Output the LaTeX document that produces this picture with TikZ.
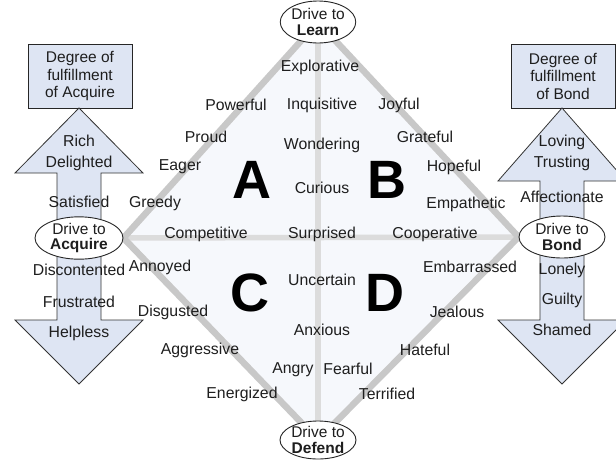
\documentclass[tikz,border=0pt]{standalone}
\usepackage{fontspec}
\setmainfont{Liberation Sans}
\usetikzlibrary{shapes.geometric,backgrounds}
\definecolor{arrowblue}{HTML}{DEE5F3}
\definecolor{diagray}{HTML}{C8C8C8}
\definecolor{crossgray}{HTML}{DCDCDC}
\definecolor{inkgray}{HTML}{1E1E1E}
\definecolor{fieldtint}{HTML}{F6F8FC}
\tikzset{
  word/.style={font=\fontsize{15.8}{17}\selectfont, text=inkgray, inner sep=0pt},
  quad/.style={font=\fontsize{54}{54}\selectfont\bfseries, inner sep=0pt},
  drive/.style={draw=black!85, line width=0.9pt, ellipse, fill=white, align=center,
    inner sep=0pt, font=\fontsize{15.5}{15.5}\selectfont, text=inkgray},
  degbox/.style={draw=black!85, line width=0.9pt, fill=arrowblue, align=center,
    minimum width=104, minimum height=64, font=\fontsize{15.5}{17.5}\selectfont, text=inkgray},
  arrowbody/.style={draw=black!80, line width=0.8pt, fill=arrowblue, line join=miter},
}
\begin{document}
\begin{tikzpicture}[x=1pt,y=-1pt]
\useasboundingbox (0,0) rectangle (616,459);
\clip (0,0) rectangle (616,459);
%\draw [help lines,step=20] (0,0) grid (616,459);

% fulfillment boxes
\node[degbox] (degacq) at (80,76) {Degree of\\fulfillment\\of Acquire};
\node[degbox] (degbond) at (563,76) {Degree of\\fulfillment\\of Bond};

% double arrows
\foreach \cx/\hb in {79/173,562/181}
  \draw[arrowbody] (\cx,108) -- ({\cx+64},\hb) -- ({\cx+22},\hb) -- ({\cx+22},320)
    -- ({\cx+64},320) -- (\cx,384) -- ({\cx-64},320) -- ({\cx-22},320)
    -- ({\cx-22},\hb) -- ({\cx-64},\hb) -- cycle;

% drives
\node[drive, minimum width=74, minimum height=42] (learn) at (318,22) {Drive to\\\textbf{Learn}};
\node[drive, minimum width=76, minimum height=38] (defend) at (318,440) {Drive to\\\textbf{Defend}};
\node[drive, minimum width=88, minimum height=40] (acquire) at (79,238) {Drive to\\\textbf{Acquire}};
\node[drive, minimum width=86, minimum height=42] (bond) at (562,237) {Drive to\\\textbf{Bond}};

\begin{pgfonlayer}{background}
\fill[fieldtint] (acquire.east) -- (learn.center) -- (bond.west) -- (defend.center) -- cycle;
\draw[crossgray, line width=5.5] (learn) -- (defend);
\draw[crossgray, line width=5.5] (acquire.east) -- (bond.west);
\draw[diagray, line width=6.5, line join=round] (acquire.east) -- (learn.center) -- (bond.west)
  -- (defend.center) -- cycle;
\end{pgfonlayer}

% arrow words
\foreach \n/\x/\y/\t in {rich/79/141/Rich, delight/79/163/Delighted, satisf/79/202/Satisfied,
    discont/79/270/Discontented, frustr/79/302/Frustrated, helpless/79/333/Helpless,
    loving/562/142/Loving, trusting/562/163/Trusting, affect/562/197/Affectionate,
    lonely/562/270/Lonely, guilty/562/300/Guilty, shamed/562/330/Shamed}
  \node[word] (\n) at (\x,\y) {\t};

% emotions in the field
\foreach \n/\x/\y/\t in {explor/320/67/Explorative, powerful/236/105/Powerful,
    inquis/322/105/Inquisitive, joyful/399/105/Joyful, proud/206/137/Proud,
    wonder/322/145/Wondering, grateful/425/137/Grateful, eager/180/167/Eager,
    hopeful/454/167/Hopeful, curious/322/188/Curious, greedy/155/203/Greedy,
    empath/466/204/Empathetic, compet/206/234/Competitive, surpr/322/234/Surprised,
    coop/435/234/Cooperative, annoyed/160/267/Annoyed, uncert/322/280/Uncertain,
    embarr/470/267/Embarrassed, disgust/173/312/Disgusted, jealous/457/312/Jealous,
    anxious/322/330/Anxious, aggress/200/350/Aggressive, hateful/425/350/Hateful,
    angry/293/370/Angry, fearful/348/369/Fearful, energ/242/394/Energized,
    terrif/387/394/Terrified}
  \node[word] (\n) at (\x,\y) {\t};

% quadrants
\node[quad] (qa) at (252,180) {A};
\node[quad] (qb) at (387,180) {B};
\node[quad] (qc) at (250,293) {C};
\node[quad] (qd) at (385,293) {D};
\end{tikzpicture}
\end{document}
